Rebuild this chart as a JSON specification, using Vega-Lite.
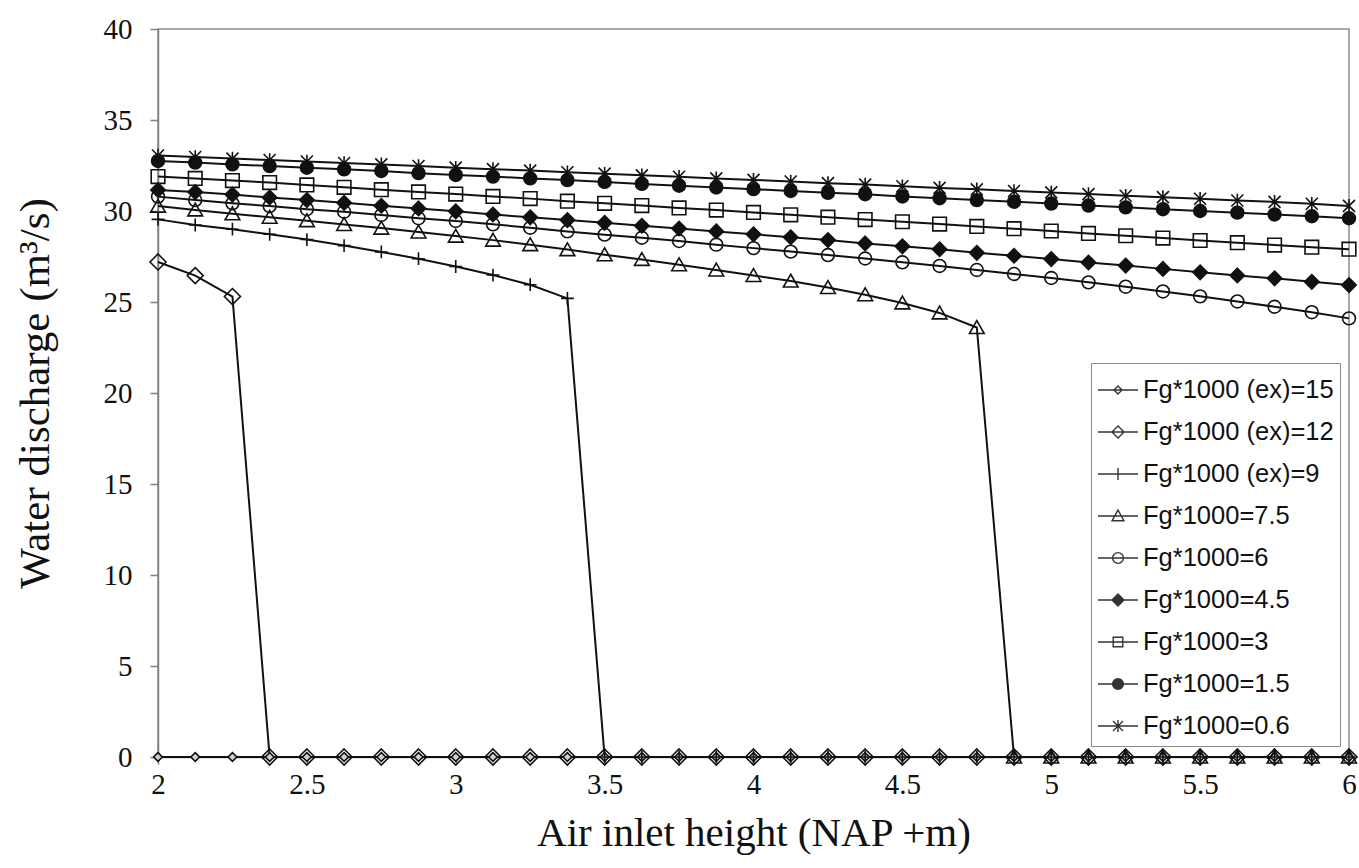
{
  "$schema": "https://vega.github.io/schema/vega-lite/v6.json",
  "autosize": "none",
  "width": 1191,
  "height": 728,
  "padding": {"left": 158, "top": 29, "right": 10, "bottom": 111},
  "background": "white",
  "config": {
    "view": {"stroke": "#8c8c8c", "strokeWidth": 1.5},
    "axis": {"grid": false, "domainColor": "#808080", "domainWidth": 1.5, "tickColor": "#808080", "tickWidth": 1.5, "labelFont": "Liberation Serif", "titleFont": "Liberation Serif", "labelColor": "#111", "titleColor": "#111", "titleFontWeight": "normal"}
  },
  "data": {"values": [
    {"series":"Fg*1000 (ex)=15","x":2,"y":0},{"series":"Fg*1000 (ex)=15","x":2.125,"y":0},{"series":"Fg*1000 (ex)=15","x":2.25,"y":0},{"series":"Fg*1000 (ex)=15","x":2.375,"y":0},{"series":"Fg*1000 (ex)=15","x":2.5,"y":0},{"series":"Fg*1000 (ex)=15","x":2.625,"y":0},{"series":"Fg*1000 (ex)=15","x":2.75,"y":0},{"series":"Fg*1000 (ex)=15","x":2.875,"y":0},{"series":"Fg*1000 (ex)=15","x":3,"y":0},{"series":"Fg*1000 (ex)=15","x":3.125,"y":0},{"series":"Fg*1000 (ex)=15","x":3.25,"y":0},{"series":"Fg*1000 (ex)=15","x":3.375,"y":0},{"series":"Fg*1000 (ex)=15","x":3.5,"y":0},{"series":"Fg*1000 (ex)=15","x":3.625,"y":0},{"series":"Fg*1000 (ex)=15","x":3.75,"y":0},{"series":"Fg*1000 (ex)=15","x":3.875,"y":0},{"series":"Fg*1000 (ex)=15","x":4,"y":0},{"series":"Fg*1000 (ex)=15","x":4.125,"y":0},{"series":"Fg*1000 (ex)=15","x":4.25,"y":0},{"series":"Fg*1000 (ex)=15","x":4.375,"y":0},{"series":"Fg*1000 (ex)=15","x":4.5,"y":0},{"series":"Fg*1000 (ex)=15","x":4.625,"y":0},{"series":"Fg*1000 (ex)=15","x":4.75,"y":0},{"series":"Fg*1000 (ex)=15","x":4.875,"y":0},{"series":"Fg*1000 (ex)=15","x":5,"y":0},{"series":"Fg*1000 (ex)=15","x":5.125,"y":0},{"series":"Fg*1000 (ex)=15","x":5.25,"y":0},{"series":"Fg*1000 (ex)=15","x":5.375,"y":0},{"series":"Fg*1000 (ex)=15","x":5.5,"y":0},{"series":"Fg*1000 (ex)=15","x":5.625,"y":0},{"series":"Fg*1000 (ex)=15","x":5.75,"y":0},{"series":"Fg*1000 (ex)=15","x":5.875,"y":0},{"series":"Fg*1000 (ex)=15","x":6,"y":0},
    {"series":"Fg*1000 (ex)=12","x":2,"y":27.2},{"series":"Fg*1000 (ex)=12","x":2.125,"y":26.45},{"series":"Fg*1000 (ex)=12","x":2.25,"y":25.3},{"series":"Fg*1000 (ex)=12","x":2.375,"y":0},{"series":"Fg*1000 (ex)=12","x":2.5,"y":0},{"series":"Fg*1000 (ex)=12","x":2.625,"y":0},{"series":"Fg*1000 (ex)=12","x":2.75,"y":0},{"series":"Fg*1000 (ex)=12","x":2.875,"y":0},{"series":"Fg*1000 (ex)=12","x":3,"y":0},{"series":"Fg*1000 (ex)=12","x":3.125,"y":0},{"series":"Fg*1000 (ex)=12","x":3.25,"y":0},{"series":"Fg*1000 (ex)=12","x":3.375,"y":0},{"series":"Fg*1000 (ex)=12","x":3.5,"y":0},{"series":"Fg*1000 (ex)=12","x":3.625,"y":0},{"series":"Fg*1000 (ex)=12","x":3.75,"y":0},{"series":"Fg*1000 (ex)=12","x":3.875,"y":0},{"series":"Fg*1000 (ex)=12","x":4,"y":0},{"series":"Fg*1000 (ex)=12","x":4.125,"y":0},{"series":"Fg*1000 (ex)=12","x":4.25,"y":0},{"series":"Fg*1000 (ex)=12","x":4.375,"y":0},{"series":"Fg*1000 (ex)=12","x":4.5,"y":0},{"series":"Fg*1000 (ex)=12","x":4.625,"y":0},{"series":"Fg*1000 (ex)=12","x":4.75,"y":0},{"series":"Fg*1000 (ex)=12","x":4.875,"y":0},{"series":"Fg*1000 (ex)=12","x":5,"y":0},{"series":"Fg*1000 (ex)=12","x":5.125,"y":0},{"series":"Fg*1000 (ex)=12","x":5.25,"y":0},{"series":"Fg*1000 (ex)=12","x":5.375,"y":0},{"series":"Fg*1000 (ex)=12","x":5.5,"y":0},{"series":"Fg*1000 (ex)=12","x":5.625,"y":0},{"series":"Fg*1000 (ex)=12","x":5.75,"y":0},{"series":"Fg*1000 (ex)=12","x":5.875,"y":0},{"series":"Fg*1000 (ex)=12","x":6,"y":0},
    {"series":"Fg*1000 (ex)=9","x":2,"y":29.54},{"series":"Fg*1000 (ex)=9","x":2.125,"y":29.23},{"series":"Fg*1000 (ex)=9","x":2.25,"y":29.0},{"series":"Fg*1000 (ex)=9","x":2.375,"y":28.72},{"series":"Fg*1000 (ex)=9","x":2.5,"y":28.43},{"series":"Fg*1000 (ex)=9","x":2.625,"y":28.1},{"series":"Fg*1000 (ex)=9","x":2.75,"y":27.75},{"series":"Fg*1000 (ex)=9","x":2.875,"y":27.38},{"series":"Fg*1000 (ex)=9","x":3,"y":26.95},{"series":"Fg*1000 (ex)=9","x":3.125,"y":26.48},{"series":"Fg*1000 (ex)=9","x":3.25,"y":25.95},{"series":"Fg*1000 (ex)=9","x":3.375,"y":25.2},{"series":"Fg*1000 (ex)=9","x":3.5,"y":0},{"series":"Fg*1000 (ex)=9","x":3.625,"y":0},{"series":"Fg*1000 (ex)=9","x":3.75,"y":0},{"series":"Fg*1000 (ex)=9","x":3.875,"y":0},{"series":"Fg*1000 (ex)=9","x":4,"y":0},{"series":"Fg*1000 (ex)=9","x":4.125,"y":0},{"series":"Fg*1000 (ex)=9","x":4.25,"y":0},{"series":"Fg*1000 (ex)=9","x":4.375,"y":0},{"series":"Fg*1000 (ex)=9","x":4.5,"y":0},{"series":"Fg*1000 (ex)=9","x":4.625,"y":0},{"series":"Fg*1000 (ex)=9","x":4.75,"y":0},{"series":"Fg*1000 (ex)=9","x":4.875,"y":0},{"series":"Fg*1000 (ex)=9","x":5,"y":0},{"series":"Fg*1000 (ex)=9","x":5.125,"y":0},{"series":"Fg*1000 (ex)=9","x":5.25,"y":0},{"series":"Fg*1000 (ex)=9","x":5.375,"y":0},{"series":"Fg*1000 (ex)=9","x":5.5,"y":0},{"series":"Fg*1000 (ex)=9","x":5.625,"y":0},{"series":"Fg*1000 (ex)=9","x":5.75,"y":0},{"series":"Fg*1000 (ex)=9","x":5.875,"y":0},{"series":"Fg*1000 (ex)=9","x":6,"y":0},
    {"series":"Fg*1000=7.5","x":2,"y":30.27},{"series":"Fg*1000=7.5","x":2.125,"y":30.06},{"series":"Fg*1000=7.5","x":2.25,"y":29.85},{"series":"Fg*1000=7.5","x":2.375,"y":29.66},{"series":"Fg*1000=7.5","x":2.5,"y":29.47},{"series":"Fg*1000=7.5","x":2.625,"y":29.26},{"series":"Fg*1000=7.5","x":2.75,"y":29.06},{"series":"Fg*1000=7.5","x":2.875,"y":28.85},{"series":"Fg*1000=7.5","x":3,"y":28.62},{"series":"Fg*1000=7.5","x":3.125,"y":28.4},{"series":"Fg*1000=7.5","x":3.25,"y":28.15},{"series":"Fg*1000=7.5","x":3.375,"y":27.88},{"series":"Fg*1000=7.5","x":3.5,"y":27.6},{"series":"Fg*1000=7.5","x":3.625,"y":27.34},{"series":"Fg*1000=7.5","x":3.75,"y":27.05},{"series":"Fg*1000=7.5","x":3.875,"y":26.76},{"series":"Fg*1000=7.5","x":4,"y":26.46},{"series":"Fg*1000=7.5","x":4.125,"y":26.15},{"series":"Fg*1000=7.5","x":4.25,"y":25.8},{"series":"Fg*1000=7.5","x":4.375,"y":25.4},{"series":"Fg*1000=7.5","x":4.5,"y":24.95},{"series":"Fg*1000=7.5","x":4.625,"y":24.4},{"series":"Fg*1000=7.5","x":4.75,"y":23.6},{"series":"Fg*1000=7.5","x":4.875,"y":0},{"series":"Fg*1000=7.5","x":5,"y":0},{"series":"Fg*1000=7.5","x":5.125,"y":0},{"series":"Fg*1000=7.5","x":5.25,"y":0},{"series":"Fg*1000=7.5","x":5.375,"y":0},{"series":"Fg*1000=7.5","x":5.5,"y":0},{"series":"Fg*1000=7.5","x":5.625,"y":0},{"series":"Fg*1000=7.5","x":5.75,"y":0},{"series":"Fg*1000=7.5","x":5.875,"y":0},{"series":"Fg*1000=7.5","x":6,"y":0},
    {"series":"Fg*1000=6","x":2,"y":30.79},{"series":"Fg*1000=6","x":2.125,"y":30.6},{"series":"Fg*1000=6","x":2.25,"y":30.42},{"series":"Fg*1000=6","x":2.375,"y":30.27},{"series":"Fg*1000=6","x":2.5,"y":30.1},{"series":"Fg*1000=6","x":2.625,"y":29.96},{"series":"Fg*1000=6","x":2.75,"y":29.78},{"series":"Fg*1000=6","x":2.875,"y":29.6},{"series":"Fg*1000=6","x":3,"y":29.45},{"series":"Fg*1000=6","x":3.125,"y":29.27},{"series":"Fg*1000=6","x":3.25,"y":29.08},{"series":"Fg*1000=6","x":3.375,"y":28.88},{"series":"Fg*1000=6","x":3.5,"y":28.7},{"series":"Fg*1000=6","x":3.625,"y":28.53},{"series":"Fg*1000=6","x":3.75,"y":28.35},{"series":"Fg*1000=6","x":3.875,"y":28.15},{"series":"Fg*1000=6","x":4,"y":27.96},{"series":"Fg*1000=6","x":4.125,"y":27.77},{"series":"Fg*1000=6","x":4.25,"y":27.58},{"series":"Fg*1000=6","x":4.375,"y":27.39},{"series":"Fg*1000=6","x":4.5,"y":27.18},{"series":"Fg*1000=6","x":4.625,"y":26.98},{"series":"Fg*1000=6","x":4.75,"y":26.76},{"series":"Fg*1000=6","x":4.875,"y":26.54},{"series":"Fg*1000=6","x":5,"y":26.32},{"series":"Fg*1000=6","x":5.125,"y":26.08},{"series":"Fg*1000=6","x":5.25,"y":25.84},{"series":"Fg*1000=6","x":5.375,"y":25.58},{"series":"Fg*1000=6","x":5.5,"y":25.31},{"series":"Fg*1000=6","x":5.625,"y":25.03},{"series":"Fg*1000=6","x":5.75,"y":24.74},{"series":"Fg*1000=6","x":5.875,"y":24.44},{"series":"Fg*1000=6","x":6,"y":24.1},
    {"series":"Fg*1000=4.5","x":2,"y":31.15},{"series":"Fg*1000=4.5","x":2.125,"y":31.04},{"series":"Fg*1000=4.5","x":2.25,"y":30.9},{"series":"Fg*1000=4.5","x":2.375,"y":30.74},{"series":"Fg*1000=4.5","x":2.5,"y":30.6},{"series":"Fg*1000=4.5","x":2.625,"y":30.45},{"series":"Fg*1000=4.5","x":2.75,"y":30.29},{"series":"Fg*1000=4.5","x":2.875,"y":30.14},{"series":"Fg*1000=4.5","x":3,"y":29.98},{"series":"Fg*1000=4.5","x":3.125,"y":29.81},{"series":"Fg*1000=4.5","x":3.25,"y":29.65},{"series":"Fg*1000=4.5","x":3.375,"y":29.5},{"series":"Fg*1000=4.5","x":3.5,"y":29.35},{"series":"Fg*1000=4.5","x":3.625,"y":29.19},{"series":"Fg*1000=4.5","x":3.75,"y":29.04},{"series":"Fg*1000=4.5","x":3.875,"y":28.88},{"series":"Fg*1000=4.5","x":4,"y":28.72},{"series":"Fg*1000=4.5","x":4.125,"y":28.56},{"series":"Fg*1000=4.5","x":4.25,"y":28.4},{"series":"Fg*1000=4.5","x":4.375,"y":28.22},{"series":"Fg*1000=4.5","x":4.5,"y":28.06},{"series":"Fg*1000=4.5","x":4.625,"y":27.9},{"series":"Fg*1000=4.5","x":4.75,"y":27.7},{"series":"Fg*1000=4.5","x":4.875,"y":27.54},{"series":"Fg*1000=4.5","x":5,"y":27.36},{"series":"Fg*1000=4.5","x":5.125,"y":27.17},{"series":"Fg*1000=4.5","x":5.25,"y":27.0},{"series":"Fg*1000=4.5","x":5.375,"y":26.82},{"series":"Fg*1000=4.5","x":5.5,"y":26.63},{"series":"Fg*1000=4.5","x":5.625,"y":26.46},{"series":"Fg*1000=4.5","x":5.75,"y":26.3},{"series":"Fg*1000=4.5","x":5.875,"y":26.11},{"series":"Fg*1000=4.5","x":6,"y":25.93},
    {"series":"Fg*1000=3","x":2,"y":31.89},{"series":"Fg*1000=3","x":2.125,"y":31.79},{"series":"Fg*1000=3","x":2.25,"y":31.67},{"series":"Fg*1000=3","x":2.375,"y":31.56},{"series":"Fg*1000=3","x":2.5,"y":31.43},{"series":"Fg*1000=3","x":2.625,"y":31.3},{"series":"Fg*1000=3","x":2.75,"y":31.17},{"series":"Fg*1000=3","x":2.875,"y":31.05},{"series":"Fg*1000=3","x":3,"y":30.93},{"series":"Fg*1000=3","x":3.125,"y":30.8},{"series":"Fg*1000=3","x":3.25,"y":30.68},{"series":"Fg*1000=3","x":3.375,"y":30.54},{"series":"Fg*1000=3","x":3.5,"y":30.42},{"series":"Fg*1000=3","x":3.625,"y":30.3},{"series":"Fg*1000=3","x":3.75,"y":30.17},{"series":"Fg*1000=3","x":3.875,"y":30.05},{"series":"Fg*1000=3","x":4,"y":29.92},{"series":"Fg*1000=3","x":4.125,"y":29.79},{"series":"Fg*1000=3","x":4.25,"y":29.66},{"series":"Fg*1000=3","x":4.375,"y":29.53},{"series":"Fg*1000=3","x":4.5,"y":29.41},{"series":"Fg*1000=3","x":4.625,"y":29.28},{"series":"Fg*1000=3","x":4.75,"y":29.15},{"series":"Fg*1000=3","x":4.875,"y":29.03},{"series":"Fg*1000=3","x":5,"y":28.9},{"series":"Fg*1000=3","x":5.125,"y":28.77},{"series":"Fg*1000=3","x":5.25,"y":28.64},{"series":"Fg*1000=3","x":5.375,"y":28.51},{"series":"Fg*1000=3","x":5.5,"y":28.38},{"series":"Fg*1000=3","x":5.625,"y":28.26},{"series":"Fg*1000=3","x":5.75,"y":28.13},{"series":"Fg*1000=3","x":5.875,"y":28.01},{"series":"Fg*1000=3","x":6,"y":27.9},
    {"series":"Fg*1000=1.5","x":2,"y":32.75},{"series":"Fg*1000=1.5","x":2.125,"y":32.66},{"series":"Fg*1000=1.5","x":2.25,"y":32.56},{"series":"Fg*1000=1.5","x":2.375,"y":32.47},{"series":"Fg*1000=1.5","x":2.5,"y":32.38},{"series":"Fg*1000=1.5","x":2.625,"y":32.29},{"series":"Fg*1000=1.5","x":2.75,"y":32.2},{"series":"Fg*1000=1.5","x":2.875,"y":32.08},{"series":"Fg*1000=1.5","x":3,"y":31.98},{"series":"Fg*1000=1.5","x":3.125,"y":31.89},{"series":"Fg*1000=1.5","x":3.25,"y":31.79},{"series":"Fg*1000=1.5","x":3.375,"y":31.7},{"series":"Fg*1000=1.5","x":3.5,"y":31.6},{"series":"Fg*1000=1.5","x":3.625,"y":31.49},{"series":"Fg*1000=1.5","x":3.75,"y":31.39},{"series":"Fg*1000=1.5","x":3.875,"y":31.29},{"series":"Fg*1000=1.5","x":4,"y":31.2},{"series":"Fg*1000=1.5","x":4.125,"y":31.1},{"series":"Fg*1000=1.5","x":4.25,"y":31.0},{"series":"Fg*1000=1.5","x":4.375,"y":30.92},{"series":"Fg*1000=1.5","x":4.5,"y":30.8},{"series":"Fg*1000=1.5","x":4.625,"y":30.7},{"series":"Fg*1000=1.5","x":4.75,"y":30.6},{"series":"Fg*1000=1.5","x":4.875,"y":30.51},{"series":"Fg*1000=1.5","x":5,"y":30.41},{"series":"Fg*1000=1.5","x":5.125,"y":30.3},{"series":"Fg*1000=1.5","x":5.25,"y":30.2},{"series":"Fg*1000=1.5","x":5.375,"y":30.1},{"series":"Fg*1000=1.5","x":5.5,"y":30.0},{"series":"Fg*1000=1.5","x":5.625,"y":29.91},{"series":"Fg*1000=1.5","x":5.75,"y":29.81},{"series":"Fg*1000=1.5","x":5.875,"y":29.71},{"series":"Fg*1000=1.5","x":6,"y":29.6},
    {"series":"Fg*1000=0.6","x":2,"y":33.05},{"series":"Fg*1000=0.6","x":2.125,"y":32.97},{"series":"Fg*1000=0.6","x":2.25,"y":32.88},{"series":"Fg*1000=0.6","x":2.375,"y":32.8},{"series":"Fg*1000=0.6","x":2.5,"y":32.72},{"series":"Fg*1000=0.6","x":2.625,"y":32.64},{"series":"Fg*1000=0.6","x":2.75,"y":32.56},{"series":"Fg*1000=0.6","x":2.875,"y":32.47},{"series":"Fg*1000=0.6","x":3,"y":32.38},{"series":"Fg*1000=0.6","x":3.125,"y":32.3},{"series":"Fg*1000=0.6","x":3.25,"y":32.22},{"series":"Fg*1000=0.6","x":3.375,"y":32.13},{"series":"Fg*1000=0.6","x":3.5,"y":32.05},{"series":"Fg*1000=0.6","x":3.625,"y":31.96},{"series":"Fg*1000=0.6","x":3.75,"y":31.88},{"series":"Fg*1000=0.6","x":3.875,"y":31.79},{"series":"Fg*1000=0.6","x":4,"y":31.71},{"series":"Fg*1000=0.6","x":4.125,"y":31.62},{"series":"Fg*1000=0.6","x":4.25,"y":31.53},{"series":"Fg*1000=0.6","x":4.375,"y":31.45},{"series":"Fg*1000=0.6","x":4.5,"y":31.36},{"series":"Fg*1000=0.6","x":4.625,"y":31.27},{"series":"Fg*1000=0.6","x":4.75,"y":31.19},{"series":"Fg*1000=0.6","x":4.875,"y":31.1},{"series":"Fg*1000=0.6","x":5,"y":31.02},{"series":"Fg*1000=0.6","x":5.125,"y":30.93},{"series":"Fg*1000=0.6","x":5.25,"y":30.84},{"series":"Fg*1000=0.6","x":5.375,"y":30.76},{"series":"Fg*1000=0.6","x":5.5,"y":30.67},{"series":"Fg*1000=0.6","x":5.625,"y":30.58},{"series":"Fg*1000=0.6","x":5.75,"y":30.5},{"series":"Fg*1000=0.6","x":5.875,"y":30.4},{"series":"Fg*1000=0.6","x":6,"y":30.28}
  ]},
  "encoding": {
    "x": {"field": "x", "type": "quantitative", "scale": {"domain": [2, 6], "nice": false, "zero": false},
      "axis": {"values": [2, 2.5, 3, 3.5, 4, 4.5, 5, 5.5, 6], "format": "~g", "title": "Air inlet height (NAP +m)", "labelFontSize": 29, "titleFontSize": 41, "tickSize": 7, "labelPadding": 6, "titlePadding": 14, "labelFlush": false}},
    "y": {"field": "y", "type": "quantitative", "scale": {"domain": [0, 40], "nice": false},
      "axis": {"values": [0, 5, 10, 15, 20, 25, 30, 35, 40], "title": "Water discharge (m³/s)", "labelFontSize": 29, "titleFontSize": 43, "tickSize": 8, "labelPadding": 18, "titlePadding": 46}}
  },
  "resolve": {"scale": {"shape": "independent"}, "legend": {"shape": "independent"}},
  "layer": [
    {
      "mark": {"type": "line", "color": "#111", "strokeWidth": 2},
      "encoding": {"detail": {"field": "series", "type": "nominal"}}
    },
    {
      "mark": {"type": "point", "size": 256, "opacity": 1, "strokeWidth": 1.6, "stroke": "#111"},
      "encoding": {
        "shape": {"field": "series", "type": "nominal", "legend": null,
          "scale": {"domain": ["Fg*1000 (ex)=15", "Fg*1000 (ex)=12", "Fg*1000 (ex)=9", "Fg*1000=7.5", "Fg*1000=6", "Fg*1000=4.5", "Fg*1000=3", "Fg*1000=1.5", "Fg*1000=0.6"],
            "range": ["M0,-0.55L0.55,0L0,0.55L-0.55,0Z", "M0,-1L1,0L0,1L-1,0Z", "M-0.8,0H0.8M0,-0.8V0.8", "M0,-0.85L0.92,0.75L-0.92,0.75Z", "M-0.8,0A0.8,0.8,0,1,0,0.8,0A0.8,0.8,0,1,0,-0.8,0Z", "M0,-0.9L0.9,0L0,0.9L-0.9,0Z", "M-0.85,-0.85H0.85V0.85H-0.85Z", "M-0.8,0A0.8,0.8,0,1,0,0.8,0A0.8,0.8,0,1,0,-0.8,0Z", "M0,-0.85V0.85M-0.75,-0.75L0.75,0.75M-0.75,0.75L0.75,-0.75"]}},
        "fill": {"field": "series", "type": "nominal", "legend": null,
          "scale": {"domain": ["Fg*1000 (ex)=15", "Fg*1000 (ex)=12", "Fg*1000 (ex)=9", "Fg*1000=7.5", "Fg*1000=6", "Fg*1000=4.5", "Fg*1000=3", "Fg*1000=1.5", "Fg*1000=0.6"],
            "range": ["#d0d0d0", "transparent", "transparent", "transparent", "transparent", "#111", "transparent", "#111", "transparent"]}}
      }
    },
    {
      "mark": {"type": "point", "size": 0, "opacity": 1, "strokeWidth": 1.4, "stroke": "#333", "fill": "transparent"},
      "encoding": {
        "shape": {"field": "series", "type": "nominal",
          "scale": {"domain": ["Fg*1000 (ex)=15", "Fg*1000 (ex)=12", "Fg*1000 (ex)=9", "Fg*1000=7.5", "Fg*1000=6", "Fg*1000=4.5", "Fg*1000=3", "Fg*1000=1.5", "Fg*1000=0.6"],
            "range": [
              "M-1,0H1M0,-0.2L0.2,0L0,0.2L-0.2,0Z",
              "M-1,0H1M0,-0.3L0.3,0L0,0.3L-0.3,0Z",
              "M-1,0H1M0,-0.3V0.3",
              "M-1,0H1M0,-0.3L0.3,0.24L-0.3,0.24Z",
              "M-1,0H1M-0.27,0A0.27,0.27,0,1,0,0.27,0A0.27,0.27,0,1,0,-0.27,0Z",
              "M-1,0H1M0,-0.3L0.3,0L0,0.3L-0.3,0ZM0,-0.25L0.25,0L0,0.25L-0.25,0ZM0,-0.2L0.2,0L0,0.2L-0.2,0ZM0,-0.15L0.15,0L0,0.15L-0.15,0ZM0,-0.1L0.1,0L0,0.1L-0.1,0ZM0,-0.05L0.05,0L0,0.05L-0.05,0Z",
              "M-1,0H1M-0.24,-0.24H0.24V0.24H-0.24Z",
              "M-1,0H1M-0.27,0A0.27,0.27,0,1,0,0.27,0A0.27,0.27,0,1,0,-0.27,0ZM-0.22,0A0.22,0.22,0,1,0,0.22,0A0.22,0.22,0,1,0,-0.22,0ZM-0.17,0A0.17,0.17,0,1,0,0.17,0A0.17,0.17,0,1,0,-0.17,0ZM-0.12,0A0.12,0.12,0,1,0,0.12,0A0.12,0.12,0,1,0,-0.12,0ZM-0.07,0A0.07,0.07,0,1,0,0.07,0A0.07,0.07,0,1,0,-0.07,0ZM-0.03,0A0.03,0.03,0,1,0,0.03,0A0.03,0.03,0,1,0,-0.03,0Z",
              "M-1,0H1M0,-0.3V0.3M-0.25,-0.25L0.25,0.25M-0.25,0.25L0.25,-0.25"]},
          "legend": {
            "title": null, "orient": "none", "legendX": 933, "legendY": 334, "direction": "vertical",
            "strokeColor": "#8c8c8c", "fillColor": "white", "padding": 6, "symbolSize": 1600, "rowPadding": 7,
            "symbolStrokeWidth": 1.4, "symbolStrokeColor": "#333", "symbolFillColor": "transparent", "symbolOpacity": 1,
            "labelFont": "Liberation Sans", "labelFontSize": 25.5, "labelColor": "#111", "labelOffset": 4, "labelLimit": 400
          }
        }
      }
    }
  ]
}
